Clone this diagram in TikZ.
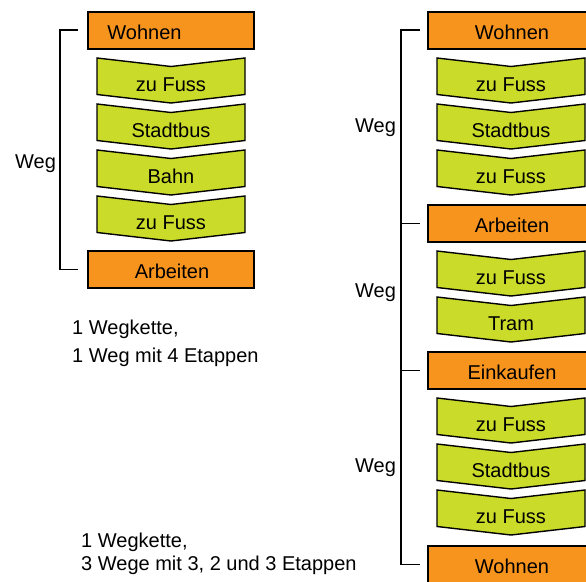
\documentclass[tikz,border=0pt]{standalone}
\usepackage{fontspec}
\setmainfont{Liberation Sans}
\definecolor{orng}{RGB}{247,148,30}
\definecolor{lime}{RGB}{203,219,42}
\tikzset{
  boxst/.style={draw=black, fill=orng, line width=1.4pt},
  chevst/.style={draw=black, fill=lime, line width=1.4pt, line join=miter},
  lbl/.style={inner sep=0pt, anchor=base, font=\fontsize{20}{24}\selectfont},
  txt/.style={inner sep=0pt, anchor=base west, font=\fontsize{20}{24}\selectfont},
  brk/.style={draw=black, line width=1.4pt},
}
% #1 name, #2 left x, #3 top y, #4 text
\newcommand\mychev[4]{%
  \path[chevst] (#2,#3) -- ++(74,8.5) -- ++(74,-8.5) -- ++(0,36.5) -- ++(-74,8.5) -- ++(-74,-8.5) -- cycle;
  \node[lbl] (#1) at (#2+74,#3+33) {#4};}
% #1 name, #2 left x, #3 top y, #4 width, #5 text x, #6 text
\newcommand\mybox[6]{%
  \path[boxst] (#2,#3) rectangle ++(#4,37);
  \node[lbl] (#1) at (#5,#3+27.5) {#6};}
\begin{document}
\begin{tikzpicture}[x=1pt,y=-1pt]
\useasboundingbox (0,0) rectangle (586,581);
\clip (0,0) rectangle (586,581);
% ---------- left chain ----------
\mybox{lw}{88}{12}{166}{144.5}{Wohnen}
\mychev{lc1}{97}{58}{zu Fuss}
\mychev{lc2}{97}{104}{Stadtbus}
\mychev{lc3}{97}{150}{Bahn}
\mychev{lc4}{97}{196}{zu Fuss}
\mybox{la}{88}{251}{166}{172}{Arbeiten}
\coordinate (lt1) at (78,30);
\coordinate (lt2) at (78,269.5);
\draw[brk] (lt1) -- (60,30) -- (60,269.5) -- (lt2);
\node[txt] (lweg) at (15,168) {Weg};
\node[txt] (lnote1) at (72,334) {1 Wegkette,};
\node[txt] (lnote2) at (72,362) {1 Weg mit 4 Etappen};
% ---------- right chain ----------
\mybox{rw1}{428}{12}{168}{512}{Wohnen}
\mychev{rc1}{437}{58}{zu Fuss}
\mychev{rc2}{437}{104}{Stadtbus}
\mychev{rc3}{437}{150}{zu Fuss}
\mybox{ra}{428}{205}{168}{512}{Arbeiten}
\mychev{rc4}{437}{251}{zu Fuss}
\mychev{rc5}{437}{297}{Tram}
\mybox{re}{428}{352}{168}{512}{Einkaufen}
\mychev{rc6}{437}{398}{zu Fuss}
\mychev{rc7}{437}{444}{Stadtbus}
\mychev{rc8}{437}{490}{zu Fuss}
\mybox{rw2}{428}{546}{168}{512}{Wohnen}
\coordinate (rt1) at (420,30);
\coordinate (rt2) at (420,223.5);
\coordinate (rt3) at (420,370.5);
\coordinate (rt4) at (420,564.5);
\draw[brk] (rt1) -- (401,30) -- (401,564.5) -- (rt4);
\draw[brk] (401,223.5) -- (rt2);
\draw[brk] (401,370.5) -- (rt3);
\node[txt] (rweg1) at (355,132) {Weg};
\node[txt] (rweg2) at (355,297) {Weg};
\node[txt] (rweg3) at (355,472) {Weg};
\node[txt] (rnote1) at (81,547) {1 Wegkette,};
\node[txt] (rnote2) at (81,570) {3 Wege mit 3, 2 und 3 Etappen};
\end{tikzpicture}
\end{document}
